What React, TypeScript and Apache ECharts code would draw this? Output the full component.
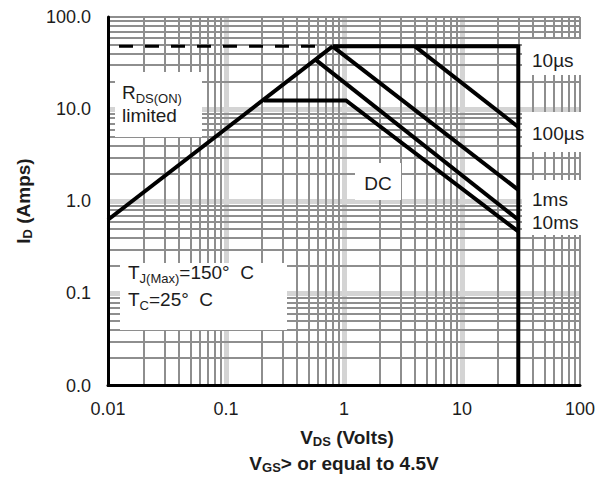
import React, { useEffect, useRef } from 'react';
import * as echarts from 'echarts';

// ---- data ----
const xTickLabels = ['0.01', '0.1', '1', '10', '100'];
const yTickLabels = ['0.0', '0.1', '1.0', '10.0', '100.0'];
const decades = [0.01, 0.1, 1, 10];
const minorSteps = [2, 3, 4, 5, 6, 7, 8, 9];
const majorGrid = [0.1, 1, 10];
const edgeGrid = [100];

const rdsLimit = [[0.01, 0.63], [0.8, 48]];
const currentLimitDashed = [[0.0124, 48], [0.65, 48]];
const pulse10us = [[0.8, 48], [30, 48], [30, 0.01]];
const pulse100us = [[4.0, 48], [30, 6.4]];
const pulse1ms = [[0.8, 48], [30, 1.33]];
const pulse10ms = [[0.58, 34], [30, 0.63]];
const dcLine = [[0.21, 12.4], [1.04, 12.4], [30, 0.47]];

const FONT = '"Liberation Sans", Arial, sans-serif';
const TXT = '#1c1c1c';

const minorGrid = [
  ...decades.flatMap((d) => minorSteps.map((m) => +(d * m).toPrecision(6))),
  ...edgeGrid,
];

const curve = (name: string, data: number[][], extra: any = {}) => ({
  type: 'line',
  name,
  data,
  symbol: 'none',
  showSymbol: false,
  silent: true,
  z: 10,
  lineStyle: { color: '#000', width: 4, join: 'miter', cap: 'butt', ...(extra.lineStyle || {}) },
  emphasis: { disabled: true },
});

const richBase = {
  m: { fontSize: 19, fontFamily: FONT, color: TXT, lineHeight: 26 },
  s: { fontSize: 13, fontFamily: FONT, color: TXT, verticalAlign: 'bottom', lineHeight: 26 },
  b: { fontSize: 19, fontFamily: FONT, fontWeight: 'bold', color: TXT, lineHeight: 22 },
  bs: { fontSize: 13, fontFamily: FONT, fontWeight: 'bold', color: TXT, verticalAlign: 'bottom', lineHeight: 22 },
};

const box = (x: number, y: number, w: number, h: number) => ({
  type: 'rect',
  shape: { x, y, width: w, height: h },
  style: { fill: '#fff' },
  z: 20,
  silent: true,
});

const label = (text: string, x: number, y: number, align = 'left', extra: any = {}) => ({
  type: 'text',
  x,
  y,
  z: 21,
  silent: true,
  ...extra,
  style: {
    text,
    rich: richBase,
    align,
    verticalAlign: 'middle',
    fill: TXT,
    font: `19px ${FONT}`,
  },
});

export default function App() {
  const ref = useRef<HTMLDivElement>(null);
  useEffect(() => {
    if (!ref.current) return;
    const chart = echarts.init(ref.current, undefined, { renderer: 'svg' });
    const option: any = {
      animation: false,
      backgroundColor: '#fff',
      grid: { left: 108, right: 16, top: 17, bottom: 91.5, containLabel: false },
      xAxis: {
        type: 'log',
        logBase: 10,
        min: 0.01,
        max: 100,
        z: 8,
        axisLine: { show: true, lineStyle: { color: '#000', width: 3 } },
        axisTick: { show: false },
        splitLine: { show: false },
        minorSplitLine: { show: false },
        axisLabel: {
          margin: 14,
          fontSize: 18,
          fontFamily: FONT,
          color: TXT,
          formatter: (v: number) => xTickLabels[Math.round(Math.log10(v)) + 2] ?? '',
        },
      },
      yAxis: {
        type: 'log',
        logBase: 10,
        min: 0.01,
        max: 100,
        z: 8,
        axisLine: { show: true, onZero: false, lineStyle: { color: '#000', width: 3 } },
        axisTick: { show: false },
        splitLine: { show: false },
        axisLabel: {
          margin: 17,
          fontSize: 18,
          fontFamily: FONT,
          color: TXT,
          formatter: (v: number) => yTickLabels[Math.round(Math.log10(v)) + 2] ?? '',
        },
      },
      series: [
        {
          type: 'line',
          data: [],
          silent: true,
          z: 1,
          markLine: {
            z: 1,
            silent: true,
            animation: false,
            symbol: ['none', 'none'],
            label: { show: false },
            emphasis: { disabled: true },
            lineStyle: { color: '#d4d4d4', width: 5, type: 'solid' },
            data: [...majorGrid.map((v) => ({ xAxis: v })), ...majorGrid.map((v) => ({ yAxis: v }))],
          },
        },
        {
          type: 'line',
          data: [],
          silent: true,
          z: 2,
          markLine: {
            z: 2,
            silent: true,
            animation: false,
            symbol: ['none', 'none'],
            label: { show: false },
            emphasis: { disabled: true },
            lineStyle: { color: '#8e8e8e', width: 2, type: 'solid' },
            data: [...minorGrid.map((v) => ({ xAxis: v })), ...minorGrid.map((v) => ({ yAxis: v }))],
          },
        },
        curve('RDS(ON) limited', rdsLimit),
        curve('limit', currentLimitDashed, { lineStyle: { width: 3, type: [14, 12] } }),
        curve('10µs', pulse10us),
        curve('100µs', pulse100us),
        curve('1ms', pulse1ms),
        curve('10ms', pulse10ms),
        curve('DC', dcLine),
      ],
      graphic: [
        box(115, 72, 87, 65),
        label('{m|R}{s|DS(ON)}', 122, 92),
        label('{m|limited}', 122, 115),
        box(120, 263, 167, 67),
        label('{m|T}{s|J(Max)}{m|=150°\u00a0\u00a0C}', 128, 272),
        label('{m|T}{s|C}{m|=25°\u00a0\u00a0C}', 128, 299),
        box(355, 163, 46, 37),
        label('{m|DC}', 378, 183, 'center'),
        box(522, 39, 62, 36),
        label('{m|10µs}', 532, 60),
        box(522, 112, 70, 40),
        label('{m|100µs}', 532, 133),
        box(522, 180, 62, 55),
        label('{m|1ms}', 532, 199),
        label('{m|10ms}', 532, 222),
        label('{b|I}{bs|D}{b| (Amps)}', 23, 201, 'center', { rotation: Math.PI / 2 }),
        label('{b|V}{bs|DS}{b| (Volts)}', 347, 437, 'center'),
        label('{b|V}{bs|GS}{b|> or equal to 4.5V}', 344, 463, 'center'),
      ],
    };
    chart.setOption(option);
    return () => chart.dispose();
  }, []);
  return (
    <div
      ref={ref}
      style={{ position: 'fixed', left: 0, top: 0, width: 598, height: 477, background: '#fff' }}
    />
  );
}
